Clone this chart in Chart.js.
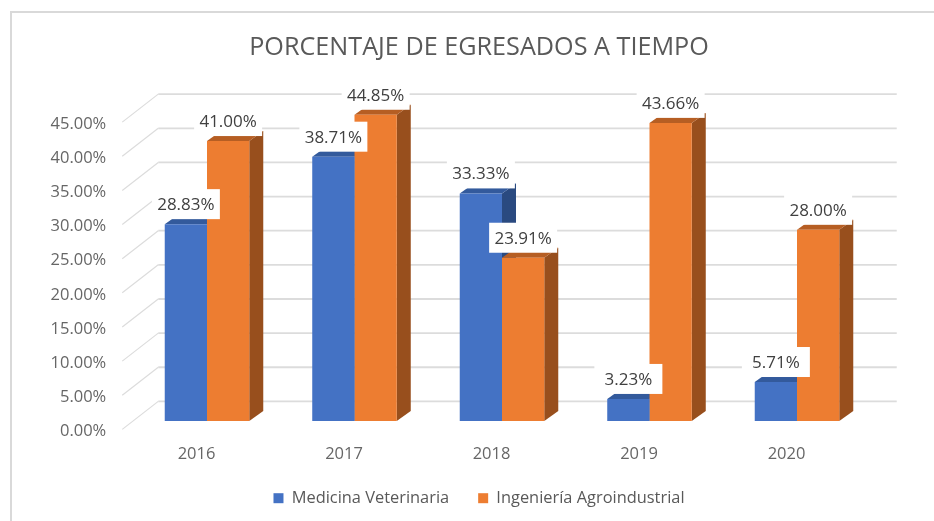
<!DOCTYPE html>
<html>
<head>
<meta charset="utf-8">
<title>Porcentaje de egresados a tiempo</title>
<script src="https://cdn.jsdelivr.net/npm/chart.js@4"></script>
<style>
  html, body { margin: 0; padding: 0; background: #fff; overflow: hidden; }
  canvas { display: block; }
</style>
</head>
<body>
<canvas id="grafico" width="934" height="521"></canvas>
<script>
const TITULO = 'PORCENTAJE DE EGRESADOS A TIEMPO';
const anos = ['2016', '2017', '2018', '2019', '2020'];
const medicina = [28.83, 38.71, 33.33, 3.23, 5.71];
const ingenieria = [41.00, 44.85, 23.91, 43.66, 28.00];

const FONTE = '"Open Sans", sans-serif';
const fmt = v => Number(v).toFixed(2) + '%';

// caras laterales y superior de las barras
const COR_LADO = ['#2a4a80', '#984f1d'];
const COR_TOPO = ['#335a9c', '#b65e23'];
const DX = 14, DY = 10;

function moldura(chart) {
  const c = chart.ctx;
  c.save();
  c.strokeStyle = '#d9d9d9';
  c.lineWidth = 2;
  c.beginPath();
  c.moveTo(11, 521); c.lineTo(11, 12); c.lineTo(934, 12);
  c.stroke();
  c.restore();
}

function paredes(chart) {
  const c = chart.ctx, y = chart.scales.y, a = chart.chartArea;
  c.save();
  c.strokeStyle = '#dcdcdc';
  y.ticks.forEach(t => {
    const py = y.getPixelForValue(t.value);
    c.lineWidth = 1.2;
    c.beginPath();
    c.moveTo(a.left - 11, py + 8.4);
    c.lineTo(a.left + 25, py - 19.6);
    c.stroke();
    c.lineWidth = 1.8;
    c.beginPath();
    c.moveTo(a.left + 25, py - 19.6);
    c.lineTo(a.right + 26, py - 19.6);
    c.stroke();
  });
  c.restore();
}

function caras(chart) {
  const c = chart.ctx;
  chart.data.datasets.forEach((ds, i) => {
    chart.getDatasetMeta(i).data.forEach(b => {
      const l = b.x - b.width / 2, r = b.x + b.width / 2;
      c.fillStyle = COR_LADO[i];
      c.beginPath();
      c.moveTo(r, b.y); c.lineTo(r + DX, b.y - DY); c.lineTo(r + DX, b.base - DY); c.lineTo(r, b.base);
      c.closePath(); c.fill();
      c.fillStyle = COR_TOPO[i];
      c.beginPath();
      c.moveTo(l, b.y); c.lineTo(l + DX, b.y - DY); c.lineTo(r + DX, b.y - DY); c.lineTo(r, b.y);
      c.closePath(); c.fill();
    });
  });
}

function rotulos(chart) {
  const c = chart.ctx;
  c.save();
  c.font = '17px ' + FONTE;
  c.textAlign = 'center';
  c.textBaseline = 'middle';
  chart.data.datasets.forEach((ds, i) => {
    chart.getDatasetMeta(i).data.forEach((b, j) => {
      const cy = b.y - 20;
      c.fillStyle = '#fff';
      c.fillRect(b.x - 34, cy - 15, 68, 30);
      c.fillStyle = '#404040';
      c.fillText(fmt(ds.data[j]), b.x, cy + 1);
    });
  });
  c.restore();
}

new Chart(document.getElementById('grafico'), {
  type: 'bar',
  data: {
    labels: anos,
    datasets: [
      { label: 'Medicina Veterinaria', data: medicina, backgroundColor: '#4472c4', borderWidth: 0 },
      { label: 'Ingeniería Agroindustrial', data: ingenieria, backgroundColor: '#ed7d31', borderWidth: 0 }
    ]
  },
  options: {
    responsive: false,
    animation: false,
    categoryPercentage: 0.573,
    barPercentage: 1,
    layout: { padding: { left: 24, right: 0, top: 33, bottom: 0 } },
    scales: {
      x: {
        grid: { display: false, drawTicks: false },
        border: { display: false },
        ticks: { color: '#666', font: { family: FONTE, size: 16.5 }, padding: 23, labelOffset: -10.5, maxRotation: 0 },
        afterFit(s) { s.height = 42; }
      },
      y: {
        min: 0,
        max: 45,
        grid: { display: false, drawTicks: false },
        border: { display: false },
        ticks: { stepSize: 5, color: '#666', font: { family: FONTE, size: 16.5 }, padding: 27, labelOffset: 10.4, callback: fmt },
        afterFit(s) { s.width = 109.25; }
      },
      // reserva el margen derecho sin mover el centro del titulo
      margem: {
        position: 'right',
        grid: { display: false },
        border: { display: false },
        ticks: { display: false },
        afterFit(s) { s.width = 63.25; }
      }
    },
    plugins: {
      title: {
        display: true,
        text: TITULO,
        color: '#595959',
        font: { family: FONTE, size: 25.2, weight: 'normal', lineHeight: 1.2 },
        padding: { top: 0, bottom: 50.5 }
      },
      legend: {
        position: 'bottom',
        labels: { color: '#595959', font: { family: FONTE, size: 16.4 }, boxWidth: 10, boxHeight: 10, padding: 29 }
      },
      tooltip: { enabled: false }
    }
  },
  plugins: [{
    id: 'falso3d',
    beforeInit(chart) {
      const fit = chart.legend.fit;
      chart.legend.fit = function () { fit.call(this); this.height = 58; };
    },
    afterLayout(chart) { chart.legend.top -= 2; },
    beforeDraw: moldura,
    beforeDatasetsDraw(chart) { paredes(chart); caras(chart); },
    afterDatasetsDraw: rotulos
  }]
});
</script>
</body>
</html>
